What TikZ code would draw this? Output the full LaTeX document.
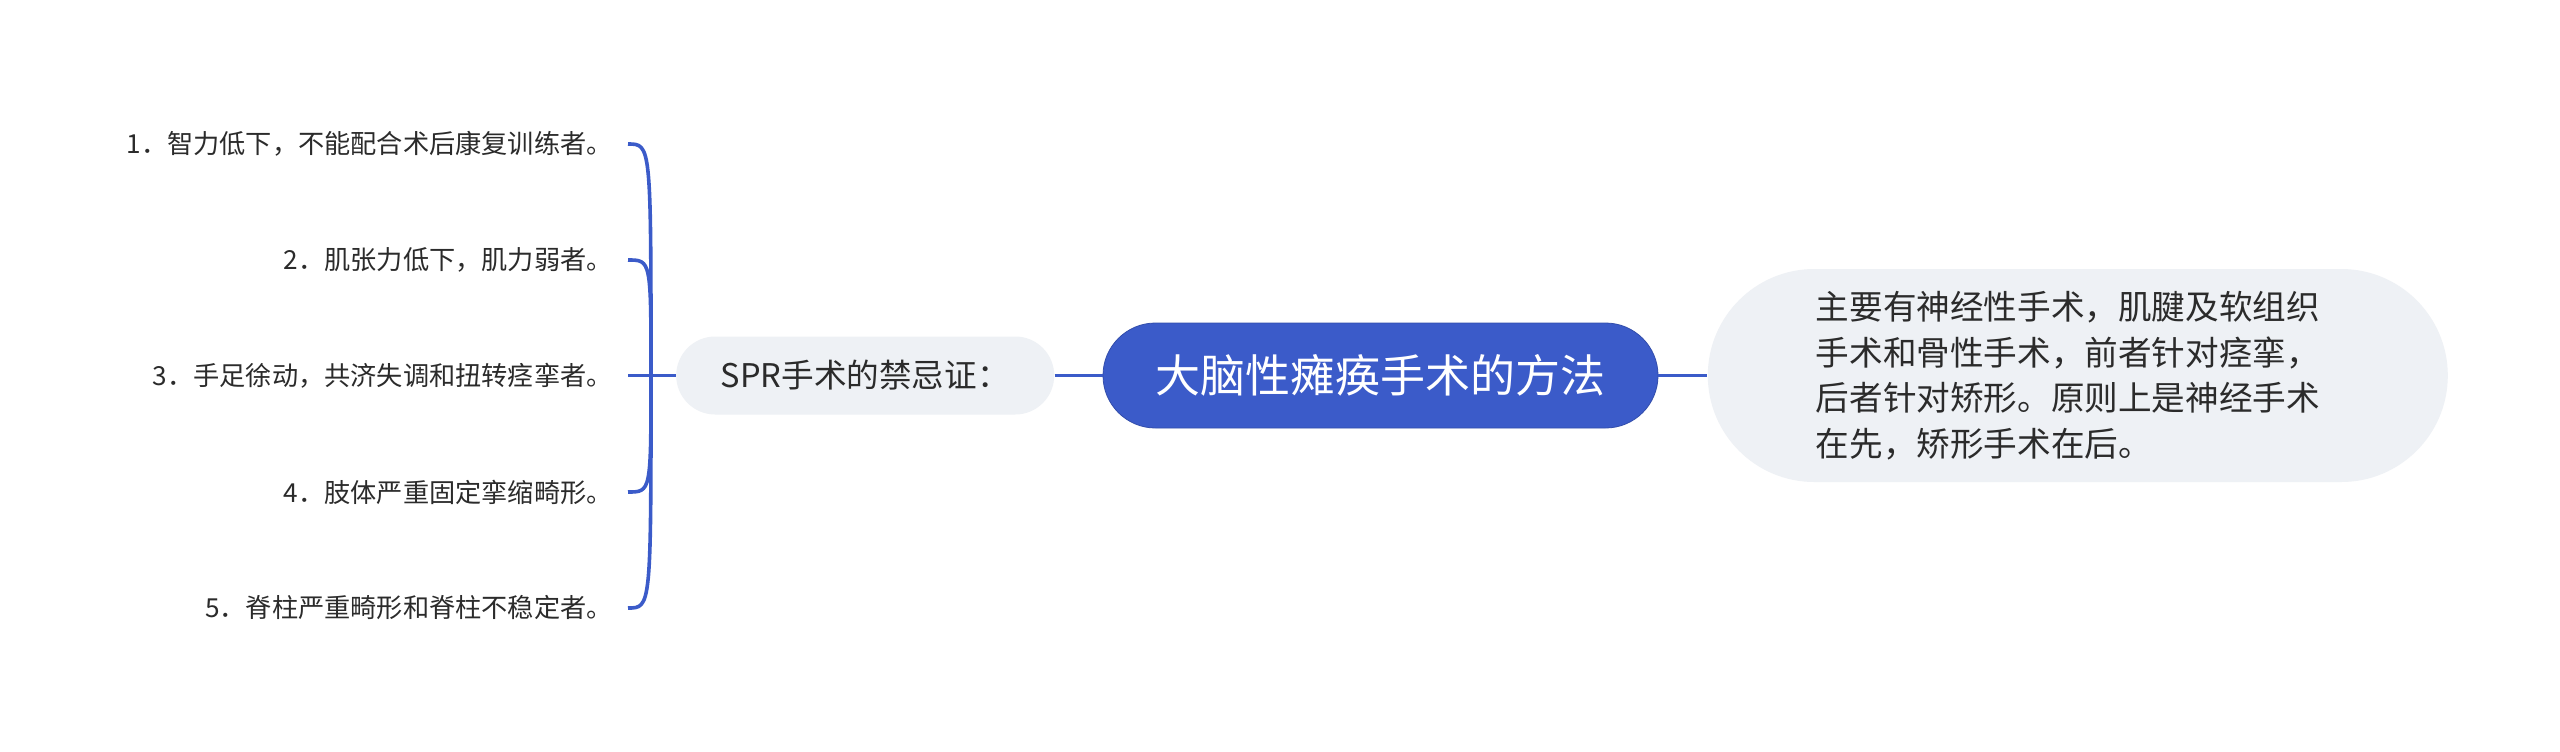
\documentclass[tikz,border=0pt]{standalone}
\usepackage{fontspec}
\setmainfont{Noto Sans CJK SC}
\usetikzlibrary{positioning}

\definecolor{topicblue}{HTML}{3B5BC9}
\definecolor{bubblegray}{HTML}{EEF1F5}
\definecolor{inkgray}{HTML}{2B2B2B}

\tikzset{
  link/.style={draw=topicblue, line width=1.8pt},
  topic/.style={fill=topicblue, draw=topicblue!85!black, line width=0.4pt,
    text=white, minimum width=277.5pt, minimum height=52.5pt,
    rounded corners=26.25pt, inner sep=0pt,
    font=\fontsize{22.5pt}{27pt}\selectfont},
  bubble/.style={fill=bubblegray, text=inkgray, inner sep=0pt,
    rounded corners=#1},
  leaf/.style={anchor=east, inner xsep=7.5pt, inner ysep=0pt, text=inkgray,
    font=\fontsize{13.1pt}{15pt}\selectfont}
}

\begin{document}
\begin{tikzpicture}
  \fill[white] (0pt, 0pt) rectangle (1280pt, -375.5pt);
  \useasboundingbox (0pt, 0pt) rectangle (1280pt, -375.5pt);

  % centre and its two branches
  \node[topic] (main) at (690.25pt, -187.75pt) {大脑性瘫痪手术的方法};
  \node[bubble=19.5pt, left=24pt of main, minimum width=189pt,
    minimum height=39pt, font=\fontsize{16.3pt}{19pt}\selectfont]
    (spr) {SPR手术的禁忌证：};
  \node[bubble=53.25pt, right=24.5pt of main, minimum width=370pt,
    minimum height=106.5pt, text width=262pt, align=left,
    font=\fontsize{16.8pt}{22.75pt}\selectfont] (note)
    {主要有神经性手术，肌腱及软组织\\
     手术和骨性手术，前者针对痉挛，\\
     后者针对矫形。原则上是神经手术\\
     在先，矫形手术在后。};

  \draw[link] (spr) -- (main);
  \draw[link] (main) -- (note);

  % contraindications
  \node[leaf] (l1) at (314pt,  -72pt) {1．智力低下，不能配合术后康复训练者。};
  \node[leaf] (l2) at (314pt, -130pt) {2．肌张力低下，肌力弱者。};
  \node[leaf] (l3) at (314pt, -187.75pt) {3．手足徐动，共济失调和扭转痉挛者。};
  \node[leaf] (l4) at (314pt, -246pt) {4．肢体严重固定挛缩畸形。};
  \node[leaf] (l5) at (314pt, -304pt) {5．脊柱严重畸形和脊柱不稳定者。};

  \coordinate (fork) at (325.5pt, -187.75pt);

  \draw[link] (l3.east) -- (spr.west);
  \draw[link] (fork) .. controls (fork |- l1.east) .. (l1.east);
  \draw[link] (fork) .. controls (fork |- l2.east) .. (l2.east);
  \draw[link] (fork) .. controls (fork |- l4.east) .. (l4.east);
  \draw[link] (fork) .. controls (fork |- l5.east) .. (l5.east);
\end{tikzpicture}
\end{document}
